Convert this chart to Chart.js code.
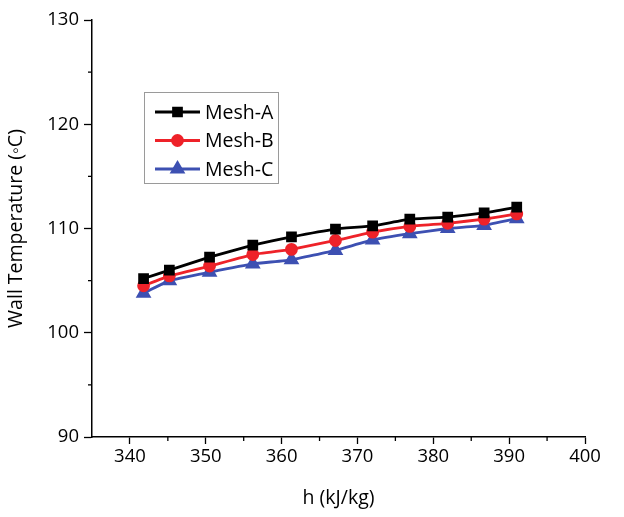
<!DOCTYPE html>
<html>
<head>
<meta charset="utf-8">
<style>
    html, body { margin: 0; padding: 0; background: #fff; }
    .chart-container { position: relative; width: 624px; height: 517px; }
</style>
</head>
<body>
<div class="chart-container">
    <canvas id="myChart"></canvas>
</div>

<script src="https://cdn.jsdelivr.net/npm/chart.js"></script>

<script>

    // enthalpy values (x) shared by all three meshes
    const hValues = [341.8, 345.2, 350.5, 356.2, 361.3, 367.1, 372.0, 376.9, 381.9, 386.7, 391.0];

    // wall temperature per mesh
    const meshA = [105.2, 106.0, 107.25, 108.4, 109.2, 109.95, 110.25, 110.9, 111.1, 111.5, 112.05];
    const meshB = [104.5, 105.45, 106.4, 107.5, 108.0, 108.85, 109.65, 110.2, 110.5, 110.9, 111.4];
    const meshC = [103.8, 105.0, 105.8, 106.6, 107.0, 107.9, 108.9, 109.5, 110.0, 110.3, 110.95];

    const seriesNames = ['Mesh-A', 'Mesh-B', 'Mesh-C'];
    const xTickRange = { min: 335, max: 400, step: 5 };
    const yTickRange = { min: 90, max: 130, step: 5 };

    const FONT = "'Open Sans', 'Noto Sans', sans-serif";

    const toPoints = vals => vals.map((v, i) => ({ x: hValues[i], y: v }));

    const ctx = document.getElementById('myChart').getContext('2d');

    // short outward ticks for the 5-unit minor steps
    const minorTicks = {
        id: 'minorTicks',
        afterDraw(chart) {
            const c = chart.ctx;
            c.save();
            c.strokeStyle = '#000';
            c.lineWidth = 1.3;
            const xs = chart.scales.x, ys = chart.scales.y;
            xs.ticks.forEach(t => {
                if (t.value % 10 === 0 || t.value === xs.min) return;
                const px = xs.getPixelForValue(t.value);
                c.beginPath();
                c.moveTo(px, xs.top);
                c.lineTo(px, xs.top + 4);
                c.stroke();
            });
            ys.ticks.forEach(t => {
                if (t.value % 10 === 0) return;
                const py = ys.getPixelForValue(t.value);
                c.beginPath();
                c.moveTo(ys.right, py);
                c.lineTo(ys.right - 4, py);
                c.stroke();
            });
            c.restore();
        }
    };

    // boxed legend inside the plot, top left
    const boxLegend = {
        id: 'boxLegend',
        afterDraw(chart) {
            const c = chart.ctx;
            const box = { x: 144.5, y: 92.5, w: 134, h: 91 };
            c.save();
            c.strokeStyle = '#9a9a9a';
            c.lineWidth = 1;
            c.strokeRect(box.x, box.y, box.w, box.h);
            chart.data.datasets.forEach((ds, i) => {
                const y = 112 + i * 28.5;
                c.strokeStyle = ds.borderColor;
                c.lineWidth = ds.borderWidth;
                c.beginPath();
                c.moveTo(155, y);
                c.lineTo(200, y);
                c.stroke();
                Chart.helpers.drawPoint(c, {
                    pointStyle: ds.pointStyle,
                    radius: ds.pointRadius,
                    rotation: 0,
                    borderWidth: 1
                }, 177.5, y);
                c.fillStyle = ds.pointBackgroundColor;
                c.strokeStyle = ds.pointBorderColor;
                c.fill();
                c.fillStyle = '#000';
                c.font = '19.5px ' + FONT;
                c.textBaseline = 'middle';
                c.textAlign = 'left';
                c.fillText(ds.label, 205, y + 1);
            });
            c.restore();
        }
    };

    function makeDataset(label, values, color, style, radius) {
        return {
            label: label,
            data: toPoints(values),
            borderColor: color,
            backgroundColor: color,
            pointBackgroundColor: color,
            pointBorderColor: color,
            borderWidth: 2.8,
            pointStyle: style,
            pointRadius: radius,
            pointHoverRadius: radius,
            tension: 0.1
        };
    }

    const chartInstance = new Chart(ctx, {
        type: 'line',
        data: {
            datasets: [
                makeDataset(seriesNames[0], meshA, '#000000', 'rect', 5.6),
                makeDataset(seriesNames[1], meshB, '#ee2229', 'circle', 5),
                makeDataset(seriesNames[2], meshC, '#3d50b2', 'triangle', 6.3)
            ]
        },
        options: {
            responsive: true,
            maintainAspectRatio: false,
            animation: false,
            layout: { padding: { top: 20, right: 39, left: 0, bottom: 0 } },
            plugins: {
                legend: { display: false },
                tooltip: { enabled: false }
            },
            scales: {
                x: {
                    type: 'linear',
                    min: xTickRange.min,
                    max: xTickRange.max,
                    afterFit: s => { s.height = 80; },
                    ticks: {
                        stepSize: xTickRange.step,
                        color: '#000',
                        font: { family: FONT, size: 18.5 },
                        padding: 2,
                        maxRotation: 0,
                        autoSkip: false,
                        callback: v => (v % 10 === 0 && v !== xTickRange.min) ? v : ''
                    },
                    grid: {
                        drawOnChartArea: false,
                        drawTicks: true,
                        tickLength: 7,
                        tickWidth: 1.3,
                        tickColor: c => (c.tick && c.tick.value % 10 === 0 && c.tick.value !== xTickRange.min) ? '#000' : 'rgba(0,0,0,0)'
                    },
                    border: { color: '#000', width: 1.5 },
                    title: {
                        display: true,
                        text: 'h (kJ/kg)',
                        color: '#000',
                        font: { family: FONT, size: 19.5 },
                        padding: { top: 0, bottom: 7 }
                    }
                },
                y: {
                    min: yTickRange.min,
                    max: yTickRange.max,
                    afterFit: s => { s.width = 92; },
                    ticks: {
                        stepSize: yTickRange.step,
                        color: '#000',
                        font: { family: FONT, size: 18.5 },
                        padding: 5,
                        autoSkip: false,
                        callback: v => (v % 10 === 0) ? v : ''
                    },
                    grid: {
                        drawOnChartArea: false,
                        drawTicks: true,
                        tickLength: 8,
                        tickWidth: 1.3,
                        tickColor: c => (c.tick && c.tick.value % 10 === 0) ? '#000' : 'rgba(0,0,0,0)'
                    },
                    border: { color: '#000', width: 1.5 },
                    title: {
                        display: true,
                        text: 'Wall Temperature (◦C)',
                        color: '#000',
                        font: { family: FONT, size: 19.5 },
                        padding: { top: 5, bottom: 0 }
                    }
                }
            }
        },
        plugins: [minorTicks, boxLegend]
    });

</script>
</body>
</html>
